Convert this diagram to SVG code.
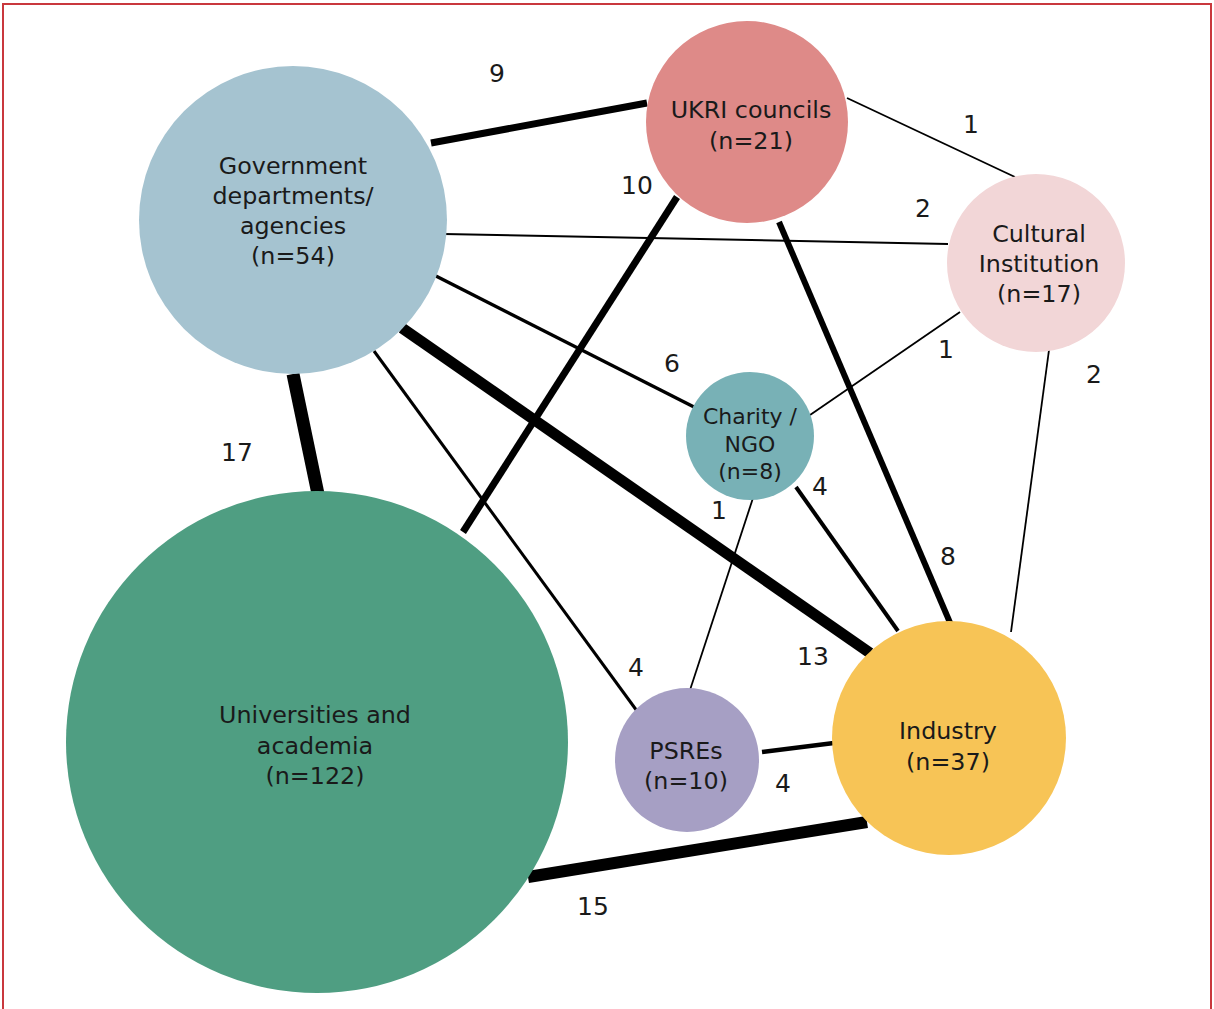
<svg xmlns="http://www.w3.org/2000/svg" width="1214" height="1009" viewBox="0 0 1214 1009">
<style>
.lbl{font-family:"DejaVu Sans","Liberation Sans",sans-serif;font-size:23.8px;fill:#1a1a1a;text-anchor:middle}
.num{font-family:"DejaVu Sans","Liberation Sans",sans-serif;font-size:25px;fill:#1a1a1a;text-anchor:middle}
.sm{font-size:22px}
.e{stroke:#000;fill:none;stroke-linecap:butt}
</style>
<rect x="0" y="0" width="1214" height="1009" fill="#fff"/>
<rect x="3" y="4" width="1208" height="1020" fill="none" stroke="#c9383d" stroke-width="2"/>
<g id="connectors">
<line class="e" x1="431" y1="143" x2="647" y2="103" stroke-width="7"/>
<line class="e" x1="847" y1="98" x2="1015" y2="177" stroke-width="1.8"/>
<line class="e" x1="444" y1="234" x2="948" y2="244" stroke-width="2"/>
<line class="e" x1="677" y1="197" x2="463" y2="532" stroke-width="7"/>
<line class="e" x1="779" y1="222" x2="951" y2="625" stroke-width="6"/>
<line class="e" x1="430" y1="273" x2="694" y2="407" stroke-width="3.5"/>
<line class="e" x1="960" y1="312" x2="810" y2="415" stroke-width="1.8"/>
<line class="e" x1="1049" y1="350" x2="1011" y2="632" stroke-width="1.8"/>
<line class="e" x1="293" y1="374" x2="318" y2="494" stroke-width="13"/>
<line class="e" x1="402" y1="328" x2="870" y2="653" stroke-width="11"/>
<line class="e" x1="374" y1="351" x2="637" y2="711" stroke-width="3"/>
<line class="e" x1="753" y1="498" x2="690" y2="690" stroke-width="1.8"/>
<line class="e" x1="796" y1="487" x2="898" y2="631" stroke-width="4"/>
<line class="e" x1="762" y1="752" x2="834" y2="743" stroke-width="4.5"/>
<line class="e" x1="528" y1="877" x2="867" y2="822" stroke-width="12"/>
<text class="num" x="497" y="82">9</text>
<text class="num" x="971" y="133">1</text>
<text class="num" x="923" y="217">2</text>
<text class="num" x="637" y="194">10</text>
<text class="num" x="948" y="565">8</text>
<text class="num" x="672" y="372">6</text>
<text class="num" x="946" y="358">1</text>
<text class="num" x="1094" y="383">2</text>
<text class="num" x="237" y="461">17</text>
<text class="num" x="813" y="665">13</text>
<text class="num" x="636" y="676">4</text>
<text class="num" x="719" y="519">1</text>
<text class="num" x="820" y="495">4</text>
<text class="num" x="783" y="792">4</text>
<text class="num" x="593" y="915">15</text>
</g>
<g id="gov">
<circle cx="293" cy="220" r="154" fill="#a5c3d0"/>
<text class="lbl" x="293" y="174">Government</text>
<text class="lbl" x="293" y="204">departments/</text>
<text class="lbl" x="293" y="234">agencies</text>
<text class="lbl" x="293" y="264">(n=54)</text>
</g>
<g id="ukri">
<circle cx="747" cy="122" r="101" fill="#de8a88"/>
<text class="lbl" x="751" y="118">UKRI councils</text>
<text class="lbl" x="751" y="149">(n=21)</text>
</g>
<g id="cultural">
<circle cx="1036" cy="263" r="89" fill="#f2d6d7"/>
<text class="lbl" x="1039" y="242">Cultural</text>
<text class="lbl" x="1039" y="272">Institution</text>
<text class="lbl" x="1039" y="302">(n=17)</text>
</g>
<g id="charity">
<circle cx="750" cy="436" r="64" fill="#78b1b6"/>
<text class="lbl sm" x="750" y="424">Charity /</text>
<text class="lbl sm" x="750" y="452">NGO</text>
<text class="lbl sm" x="750" y="479">(n=8)</text>
</g>
<g id="universities">
<circle cx="317" cy="742" r="251" fill="#4f9e82"/>
<text class="lbl" x="315" y="723">Universities and</text>
<text class="lbl" x="315" y="754">academia</text>
<text class="lbl" x="315" y="784">(n=122)</text>
</g>
<g id="psres">
<circle cx="687" cy="760" r="72" fill="#a69fc4"/>
<text class="lbl" x="686" y="759">PSREs</text>
<text class="lbl" x="686" y="789">(n=10)</text>
</g>
<g id="industry">
<circle cx="949" cy="738" r="117" fill="#f7c456"/>
<text class="lbl" x="948" y="739">Industry</text>
<text class="lbl" x="948" y="770">(n=37)</text>
</g>
</svg>
